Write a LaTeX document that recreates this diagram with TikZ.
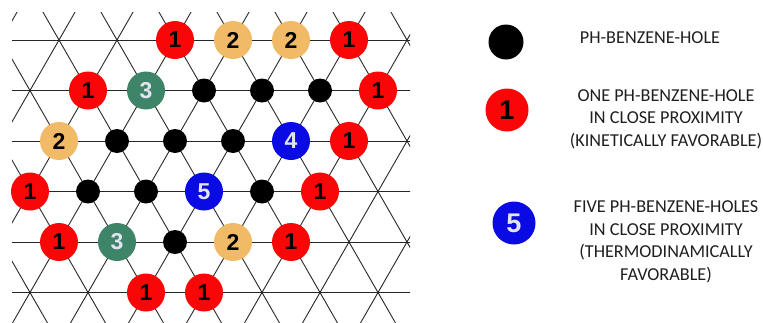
\documentclass[tikz,border=0pt]{standalone}
\usepackage{fontspec}
\setmainfont{Carlito}
\newfontfamily\digitfont{Liberation Sans}
\definecolor{onered}{RGB}{250,6,6}
\definecolor{twotan}{RGB}{240,186,102}
\definecolor{threegreen}{RGB}{62,132,104}
\definecolor{fiveblue}{RGB}{10,10,228}
\definecolor{paledigit}{RGB}{228,228,240}

\begin{document}
\begin{tikzpicture}[x=1pt, y=-1pt,
	grid/.style={black!85, line width=0.9pt},
	site/.style={circle, inner sep=0pt, minimum size=38pt, font=\digitfont\bfseries\fontsize{23}{23}\selectfont},
	bigsite/.style={minimum size=43pt, font=\digitfont\bfseries\fontsize{27}{27}\selectfont},
	hole/.style={circle, fill=black, inner sep=0pt, minimum size=24pt},
	one/.style={site, fill=onered},
	two/.style={site, fill=twotan},
	three/.style={site, fill=threegreen, text=paledigit},
	many/.style={site, fill=fiveblue, text=paledigit},
	legtext/.style={align=center, text=black!88, font=\fontsize{18.2}{22.5}\selectfont}]
	\useasboundingbox (0,0) rectangle (763,322);
	\begin{scope}
		\clip (12,12) rectangle (410,322);
		\foreach \r in {0,...,5}
			\draw[grid] (0,{40+50.5*\r}) -- (420,{40+50.5*\r});
		\foreach \k in {-5,...,14} {
			\draw[grid] ({1+58*\k-29},-10.5) -- ({1+58*\k+29*7},393.5);
			\draw[grid] ({1+58*\k+29},-10.5) -- ({1+58*\k-29*7},393.5);
		}
	\end{scope}
	\node[one] (a1) at (175,40) {1};
	\node[two] (a2) at (233,40) {2};
	\node[two] (a3) at (291,40) {2};
	\node[one] (a4) at (349,40) {1};
	\node[one] (b1) at (88,90.5) {1};
	\node[three] (b2) at (146,90.5) {3};
	\node[hole] (b3) at (204,90.5) {};
	\node[hole] (b4) at (262,90.5) {};
	\node[hole] (b5) at (320,90.5) {};
	\node[one] (b6) at (378,90.5) {1};
	\node[two] (c1) at (59,141) {2};
	\node[hole] (c2) at (117,141) {};
	\node[hole] (c3) at (175,141) {};
	\node[hole] (c4) at (233,141) {};
	\node[many] (c5) at (291,141) {4};
	\node[one] (c6) at (349,141) {1};
	\node[one] (d1) at (30,191.5) {1};
	\node[hole] (d2) at (88,191.5) {};
	\node[hole] (d3) at (146,191.5) {};
	\node[many] (d4) at (204,191.5) {5};
	\node[hole] (d5) at (262,191.5) {};
	\node[one] (d6) at (320,191.5) {1};
	\node[one] (e1) at (59,242) {1};
	\node[three] (e2) at (117,242) {3};
	\node[hole] (e3) at (175,242) {};
	\node[two] (e4) at (233,242) {2};
	\node[one] (e5) at (291,242) {1};
	\node[one] (f1) at (146,292.5) {1};
	\node[one] (f2) at (204,292.5) {1};
	\node[hole, minimum size=35pt] (khole) at (506,42) {};
	\node[one, bigsite] (kone) at (507,110) {1};
	\node[many, bigsite] (kfive) at (514,223) {5};
	\node[legtext] (thole) at (650,38) {PH-BENZENE-HOLE};
	\node[legtext] (tone) at (666,119) {ONE PH-BENZENE-HOLE\\IN CLOSE PROXIMITY\\(KINETICALLY FAVORABLE)};
	\node[legtext] (tfive) at (666,242) {FIVE PH-BENZENE-HOLES\\IN CLOSE PROXIMITY\\(THERMODINAMICALLY\\FAVORABLE)};
\end{tikzpicture}
\end{document}
